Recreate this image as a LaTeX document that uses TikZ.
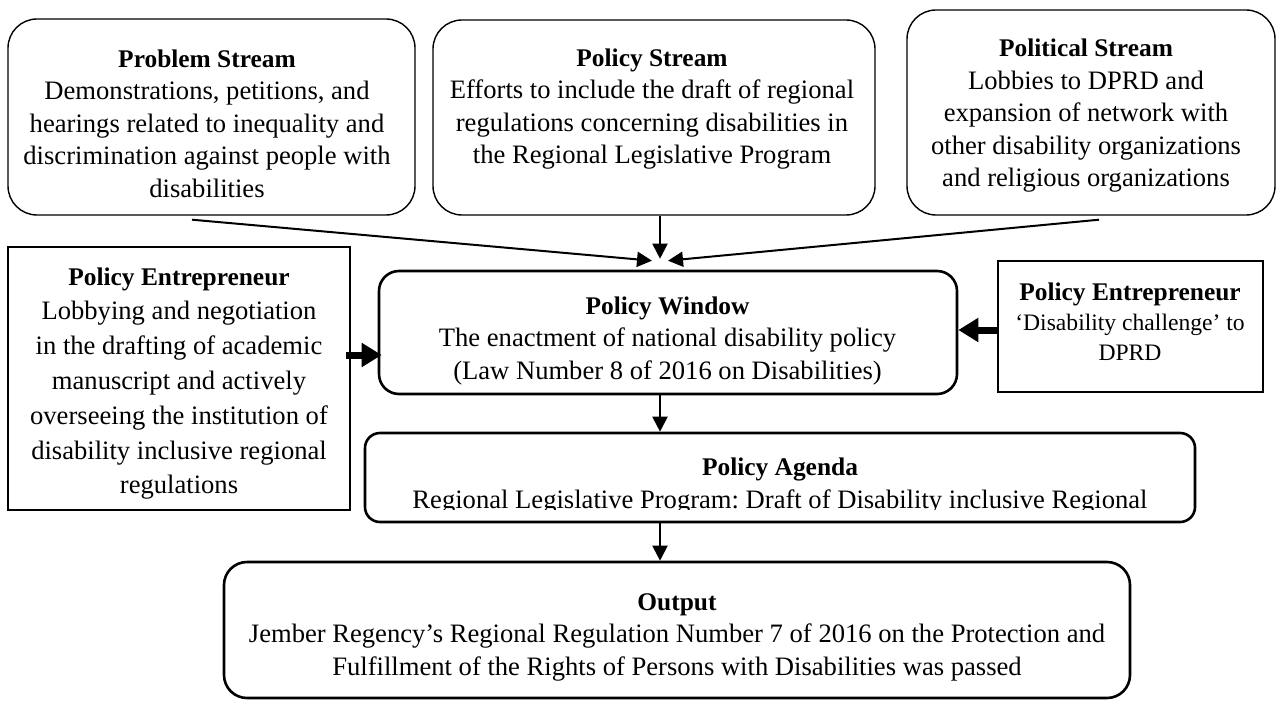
\documentclass[tikz,border=0pt]{standalone}
\usepackage{fontspec}
\setmainfont{Liberation Serif}
\usetikzlibrary{arrows.meta}
\frenchspacing
\begin{document}
\begin{tikzpicture}[x=0.5pt,y=-0.5pt,
  topbox/.style={draw, line width=0.7pt, rounded corners=14.5pt, inner sep=0pt},
  sqbox/.style={draw, line width=1pt, inner sep=0pt},
  midbox/.style={draw, line width=1.3pt, inner sep=0pt},
  txt/.style={align=center, inner sep=0pt, font=\fontsize{13.3}{16.25}\selectfont},
  arr/.style={line width=1pt, -{Triangle[length=7.5pt,width=7.5pt]}},
  fat/.style={line width=3.5pt, -{Triangle[length=10pt,width=11.5pt]}}
]
\newcommand\hd[1]{{\fontsize{12.7}{16.25}\selectfont\bfseries #1}}
\useasboundingbox (0,0) rectangle (1277,700);

% top row
\node[topbox, minimum width=203.5pt, minimum height=98pt] (prob) at (211.5,117) {};
\node[topbox, minimum width=221pt, minimum height=97.5pt] (pol) at (654,117.5) {};
\node[topbox, minimum width=184pt, minimum height=102.5pt] (polit) at (1091,112.5) {};

\node[txt] (probT) at (207,123.5) {\hd{Problem Stream}\\Demonstrations, petitions, and\\hearings related to inequality and\\discrimination against people with\\disabilities};
\node[txt] (polT) at (652,109) {\hd{Policy Stream}\\Efforts to include the draft of regional\\regulations concerning disabilities in\\the Regional Legislative Program};
\node[txt] (politT) at (1086,116) {\hd{Political Stream}\\Lobbies to DPRD and\\expansion of network with\\other disability organizations\\and religious organizations};

% middle row
\node[sqbox, minimum width=171pt, minimum height=131.5pt] (entL) at (179,378.5) {};
\node[txt, font=\fontsize{13.3}{17.4}\selectfont] (entLT) at (179,383.5) {\hd{Policy Entrepreneur}\\Lobbying and negotiation\\in the drafting of academic\\manuscript and actively\\overseeing the institution of\\disability inclusive regional\\regulations};

\node[midbox, rounded corners=10pt, minimum width=289pt, minimum height=61.5pt] (win) at (668,332.5) {};
\node[txt] (winT) at (667.5,341) {\hd{Policy Window}\\The enactment of national disability policy\\(Law Number 8 of 2016 on Disabilities)};

\node[sqbox, minimum width=132.5pt, minimum height=65.5pt] (entR) at (1130.5,326.5) {};
\node[txt, font=\fontsize{11.8}{15}\selectfont] (entRT) at (1130,322) {\hd{Policy Entrepreneur}\\`Disability challenge' to\\DPRD};

% agenda
\node[midbox, rounded corners=7.5pt, minimum width=415pt, minimum height=44.5pt] (agenda) at (780,477.5) {};
\begin{scope}
\clip (365,433) rectangle (1195,509.5);
\node[txt] (agendaT) at (780,486) {\hd{Policy Agenda}\\Regional Legislative Program: Draft of Disability inclusive Regional};
\end{scope}

% output
\node[midbox, rounded corners=11.5pt, minimum width=453pt, minimum height=68pt] (out) at (677,630) {};
\node[txt] (outT) at (677,637) {\hd{Output}\\Jember Regency's Regional Regulation Number 7 of 2016 on the Protection and\\Fulfillment of the Rights of Persons with Disabilities was passed};

% connectors
\draw[arr] ([xshift=-9.75pt,yshift=-2pt]prob.south) -- ([xshift=-8pt,yshift=4.5pt]win.north);
\draw[arr] ([xshift=3pt]pol.south) -- ([xshift=-4pt,yshift=5.5pt]win.north);
\draw[arr] ([xshift=4pt,yshift=-2pt]polit.south) -- ([yshift=4.5pt]win.north);
\draw[fat] ([xshift=-2.5pt,yshift=11.75pt]entL.east) -- ([xshift=2pt,yshift=-11.25pt]win.west);
\draw[fat] ([yshift=-1.75pt]entR.west) -- ([yshift=1.25pt]win.east);
\draw[arr] ([xshift=-4pt]win.south) -- ([xshift=-60pt]agenda.north);
\draw[arr] ([xshift=-60pt]agenda.south) -- ([xshift=-8.5pt]out.north);
\end{tikzpicture}
\end{document}
